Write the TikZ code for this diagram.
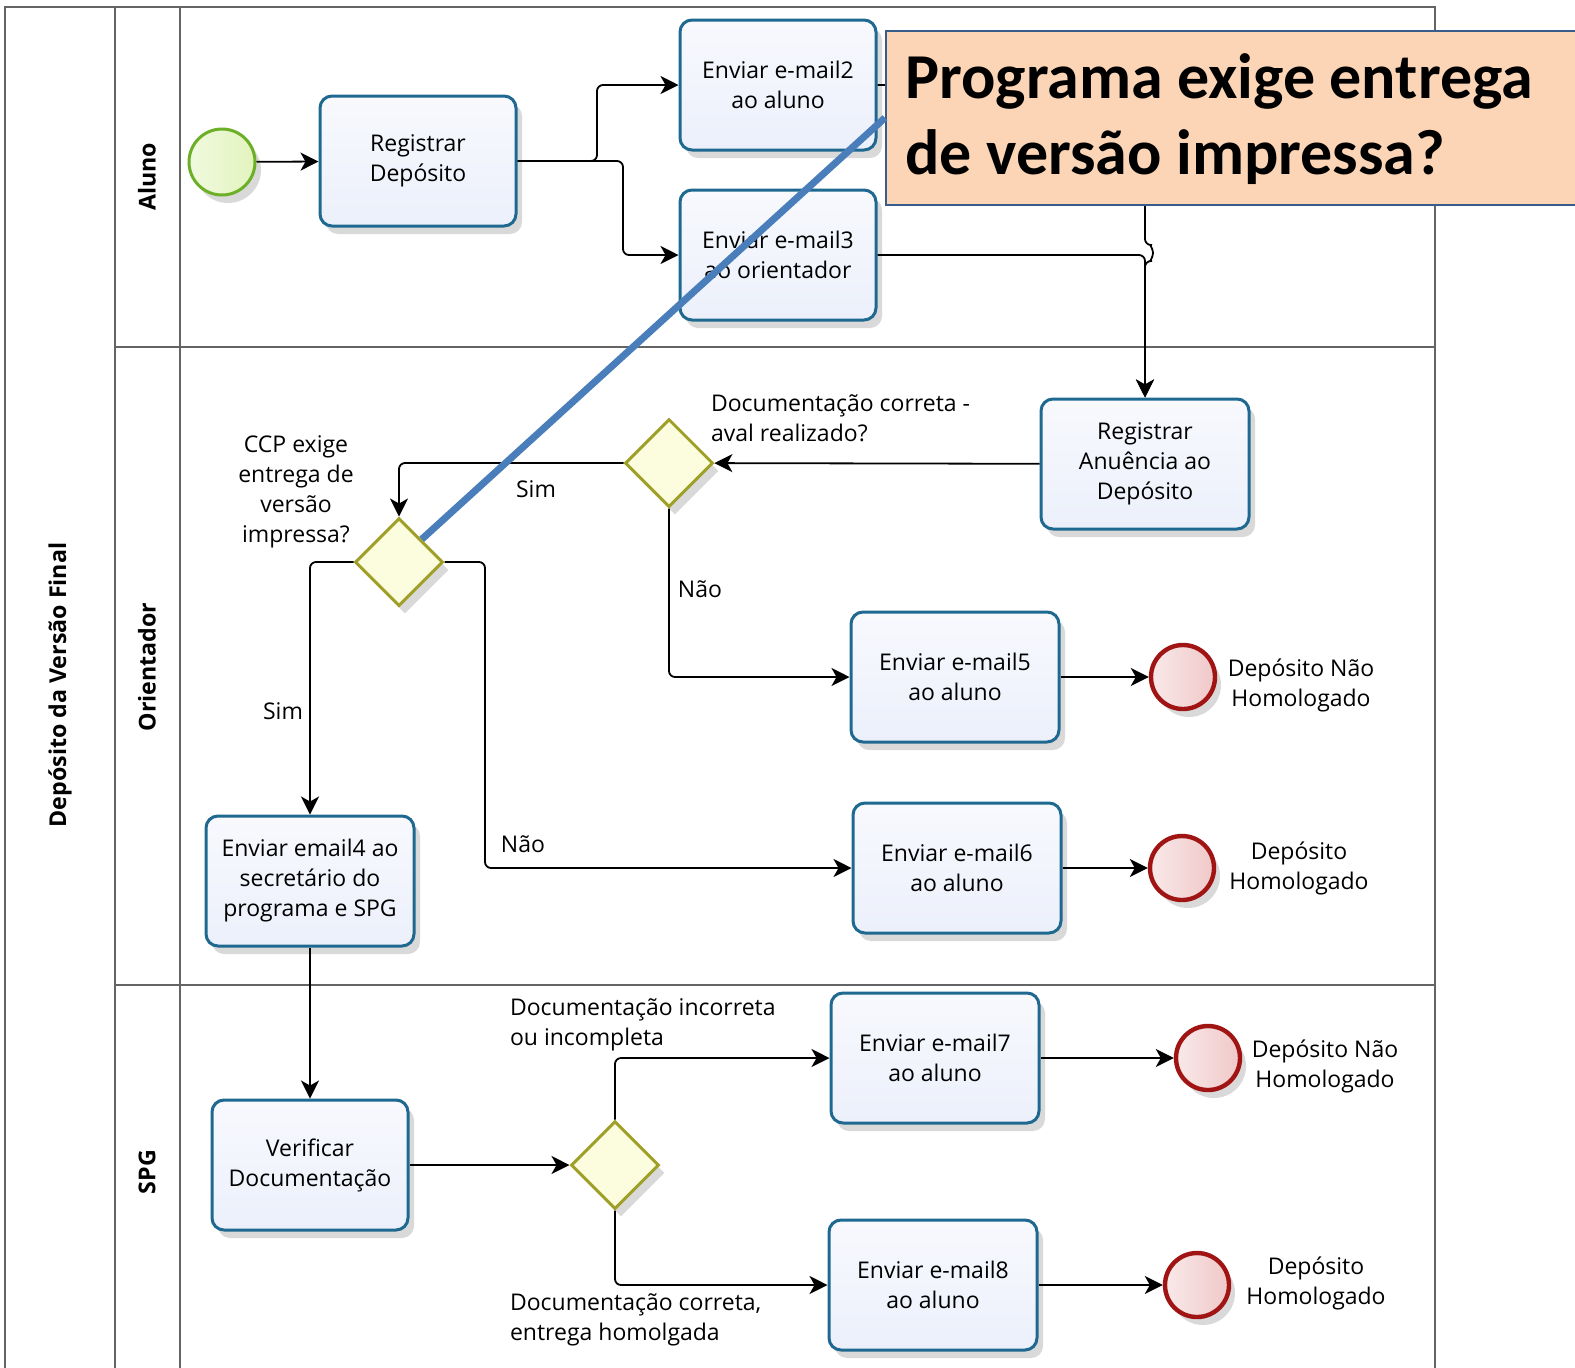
\documentclass[tikz,border=0pt]{standalone}
\usepackage{fontspec}
\setmainfont{Open Sans}
\newfontfamily\calloutfont{Carlito}
\usetikzlibrary{arrows.meta,shadows,shapes.geometric}
\definecolor{taskline}{RGB}{31,105,145}
\definecolor{taskfill}{RGB}{236,240,251}
\definecolor{gateline}{RGB}{160,160,40}
\definecolor{gatefill}{RGB}{252,252,222}
\definecolor{startline}{RGB}{110,175,40}
\definecolor{startfill}{RGB}{226,244,190}
\definecolor{endline}{RGB}{160,20,20}
\definecolor{endfill}{RGB}{240,200,200}
\definecolor{calloutfill}{RGB}{251,213,181}
\definecolor{calloutline}{RGB}{56,93,138}
\definecolor{pointer}{RGB}{74,126,187}
\definecolor{poolline}{RGB}{100,100,100}
\tikzset{
  txt/.style={font=\fontsize{11.5}{15}\selectfont, align=center},
  shade/.style={drop shadow={shadow xshift=3pt, shadow yshift=-4pt, opacity=0.15, fill=black}},
  task/.style={txt, shade, draw=taskline, top color=white!60!taskfill, bottom color=taskfill, line width=1.5pt, rounded corners=6pt, minimum width=98pt, minimum height=65pt},
  widetask/.style={task, minimum width=104pt},
  gate/.style={shade, diamond, aspect=1, draw=gateline, fill=gatefill, line width=1.5pt, minimum size=44pt, inner sep=0pt},
  startev/.style={shade, circle, draw=startline, left color=white!50!startfill, right color=startfill, line width=1.5pt, minimum size=33pt, inner sep=0pt},
  endev/.style={shade, circle, draw=endline, left color=white!60!endfill, right color=endfill, line width=2.2pt, minimum size=32pt, inner sep=0pt},
  flow/.style={draw=black, line width=0.9pt, rounded corners=3pt, -{Stealth[length=9pt, width=9pt, inset=2.5pt]}},
  lane/.style={font=\bfseries\fontsize{11.6}{14}\selectfont, rotate=90},
  callout/.style={draw=calloutline, fill=calloutfill, line width=0.8pt, minimum width=350pt, minimum height=87pt},
  callouttext/.style={font=\calloutfont\bfseries\fontsize{32}{38}\selectfont, align=left, inner sep=0pt}
}
\begin{document}
\begin{tikzpicture}[x=0.5pt, y=-0.5pt]
      \useasboundingbox (0,0) rectangle (1575,1367);
      \fill[white] (0,0) rectangle (1575,1367);
      \draw[poolline, line width=1pt] (5,1400) -- (5,7) -- (1435,7) -- (1435,1400);
      \draw[poolline, line width=1pt] (115,7) -- (115,1400);
      \draw[poolline, line width=1pt] (180,7) -- (180,1400);
      \draw[poolline, line width=1pt] (115,347) -- (1435,347);
      \draw[poolline, line width=1pt] (115,985) -- (1435,985);
      \node (pool)[lane] at (60,685){Depósito da Versão Final};
      \node (aluno)[lane] at (147,177){Aluno};
      \node (orientador)[lane] at (147,667){Orientador};
      \node (spg)[lane] at (147,1172){SPG};
      \node (inicio)[startev] at (222,162){};
      \node (registrar)[task] at (418,161){Registrar\\Depósito};
      \node (email2)[task] at (778,85){Enviar e-mail2\\ao aluno};
      \node (email3)[task] at (778,255){Enviar e-mail3\\ao orientador};
      \node (anuencia)[widetask] at (1145,464){Registrar\\Anuência ao\\Depósito};
      \node (doc)[gate] at (669,463){};
      \node (ldoc)[txt, align=left, anchor=west] at (704,418){Documentação correta -\\aval realizado?};
      \node (ccp)[gate] at (399,562){};
      \node (lccp)[txt] at (296,492){CCP exige\\entrega de\\versão\\impressa?};
      \node (email5)[widetask] at (955,677){Enviar e-mail5\\ao aluno};
      \node (fim1)[endev] at (1183,677){};
      \node (lfim1)[txt] at (1301,685){Depósito Não\\Homologado};
      \node (email6)[widetask] at (957,868){Enviar e-mail6\\ao aluno};
      \node (fim2)[endev] at (1182,868){};
      \node (lfim2)[txt] at (1299,868){Depósito\\Homologado};
      \node (email4)[widetask] at (310,881){Enviar email4 ao\\secretário do\\programa e SPG};
      \node (verificar)[task] at (310,1165){Verificar\\Documentação};
      \node (docspg)[gate] at (615,1165){};
      \node (ldocspg1)[txt, align=left, anchor=west] at (503,1025){Documentação incorreta\\ou incompleta};
      \node (ldocspg2)[txt, align=left, anchor=west] at (503,1320){Documentação correta,\\entrega homolgada};
      \node (email7)[widetask] at (935,1058){Enviar e-mail7\\ao aluno};
      \node (fim3)[endev] at (1208,1058){};
      \node (lfim3)[txt] at (1325,1066){Depósito Não\\Homologado};
      \node (email8)[widetask] at (933,1285){Enviar e-mail8\\ao aluno};
      \node (fim4)[endev] at (1197,1285){};
      \node (lfim4)[txt] at (1316,1283){Depósito\\Homologado};
      \draw[flow] (inicio) -- (registrar);
      \draw[flow] (registrar.east) -- (597,161) |- (email2.west);
      \draw[flow] (registrar.east) -- (623,161) |- (email3.west);
      \draw[flow] (email2.east) -| (1145,245) arc[start angle=90, end angle=-90, radius=4pt] -- (anuencia.north);
      \draw[flow] (email3.east) -- (1145,255) -- (anuencia.north);
      \draw[flow] (anuencia) -- (doc);
      \draw[flow] (doc.west) -| (ccp.north);
      \draw[flow] (doc.south) |- (email5.west);
      \draw[flow] (ccp.west) -| (email4.north);
      \draw[flow] (ccp.east) -- (485,562) |- (email6.west);
      \draw[flow] (email5) -- (fim1);
      \draw[flow] (email6) -- (fim2);
      \draw[flow] (email4) -- (verificar);
      \draw[flow] (verificar) -- (docspg);
      \draw[flow] (docspg.north) |- (email7.west);
      \draw[flow] (docspg.south) |- (email8.west);
      \draw[flow] (email7) -- (fim3);
      \draw[flow] (email8) -- (fim4);
      \node (sim1)[txt] at (536,489){Sim};
      \node (nao1)[txt] at (700,589){Não};
      \node (sim2)[txt] at (283,711){Sim};
      \node (nao2)[txt] at (523,844){Não};
      \node (nota)[callout, anchor=north west] at (885,30){};
      \node (notatexto)[callouttext, anchor=west] at (905,119){Programa exige entrega\\de versão impressa?};
      \draw[pointer, line width=3.5pt] (ccp.north east) -- (nota.west);
\end{tikzpicture}
\end{document}
